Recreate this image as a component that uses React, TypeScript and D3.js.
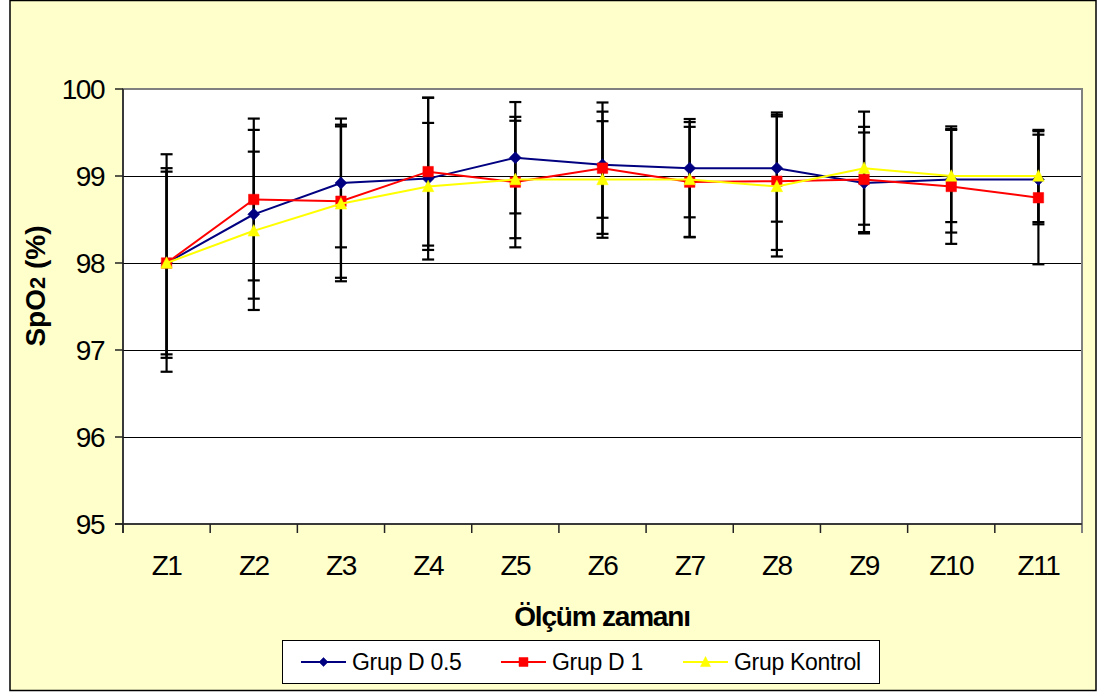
import React from "react";
import * as d3 from "d3";

const categories = ["Z1", "Z2", "Z3", "Z4", "Z5", "Z6", "Z7", "Z8", "Z9", "Z10", "Z11"];
const yTicks = [95, 96, 97, 98, 99, 100];

const seriesNames = ["Grup D 0.5", "Grup D 1", "Grup Kontrol"];
const meanD05 = [98, 98.56, 98.92, 98.97, 99.21, 99.13, 99.09, 99.09, 98.92, 98.96, 98.96];
const meanD1 = [98, 98.73, 98.71, 99.05, 98.93, 99.09, 98.93, 98.94, 98.96, 98.88, 98.75];
const meanKontrol = [98, 98.37, 98.68, 98.88, 98.96, 98.96, 98.96, 98.88, 99.09, 99.0, 99.0];
const sdD05 = [1.25, 0.97, 0.74, 0.93, 0.64, 0.61, 0.565, 0.615, 0.58, 0.61, 0.515];
const sdD1 = [1.09, 0.93, 0.88, 0.85, 0.75, 0.755, 0.635, 0.79, 0.605, 0.66, 0.765];
const sdKontrol = [1.05, 0.91, 0.89, 0.73, 0.675, 0.67, 0.66, 0.805, 0.65, 0.53, 0.53];

const colors = ["#000080", "#FF0000", "#FFFF00"];
const markers = ["diamond", "square", "triangle"];

const FONT = "Arial, 'Liberation Sans', Helvetica, sans-serif";

export default function App() {
  const left = 123, right = 1082, top = 89, bottom = 524;
  const x = d3.scaleBand<string>().domain(categories).range([left, right]).padding(0);
  const y = d3.scaleLinear().domain([95, 100]).range([bottom, top]);
  const cx = (c: string) => (x(c) as number) + x.bandwidth() / 2;

  const series = [
    { name: seriesNames[0], mean: meanD05, sd: sdD05, color: colors[0], marker: markers[0] },
    { name: seriesNames[1], mean: meanD1, sd: sdD1, color: colors[1], marker: markers[1] },
    { name: seriesNames[2], mean: meanKontrol, sd: sdKontrol, color: colors[2], marker: markers[2] },
  ];

  const line = d3
    .line<number>()
    .x((_, i) => cx(categories[i]))
    .y((d) => y(d));

  const markerPath = (type: string, size: number) => {
    const s = size / 2;
    if (type === "diamond") return `M0,${-s}L${s},0L0,${s}L${-s},0Z`;
    if (type === "square") return `M${-s},${-s}H${s}V${s}H${-s}Z`;
    return `M0,${-s - 1}L${s + 0.5},${s}L${-s - 0.5},${s}Z`;
  };

  const legendItems = [
    { lx: 301, tx: 352 },
    { lx: 501, tx: 552 },
    { lx: 683, tx: 734 },
  ];

  return (
    <svg
      width={1113}
      height={696}
      style={{ position: "absolute", left: 0, top: 0, background: "#fff" }}
      fontFamily={FONT}
    >
      <rect x={10} y={0.5} width={1086} height={690} fill="#FFFFCC" stroke="#000" strokeWidth={1.5} />
      {/* plot area */}
      <rect x={left} y={top} width={right - left} height={bottom - top} fill="#fff" stroke="#808080" strokeWidth={2} />
      {/* gridlines */}
      {yTicks.filter((t) => t > 95 && t < 100).map((t) => (
        <line key={t} x1={left} x2={right} y1={y(t) + 0.5} y2={y(t) + 0.5} stroke="#000" strokeWidth={1} />
      ))}
      {/* right border extension */}
      <line x1={right} x2={right} y1={top} y2={bottom + 9} stroke="#808080" strokeWidth={2} />
      {/* axes */}
      <line x1={left} x2={left} y1={top} y2={bottom + 9} stroke="#222" strokeWidth={1.5} />
      <line x1={left - 8} x2={right} y1={bottom} y2={bottom} stroke="#222" strokeWidth={1.5} />
      {yTicks.map((t) => (
        <g key={t}>
          <line x1={left - 8} x2={left} y1={y(t)} y2={y(t)} stroke="#222" strokeWidth={1.5} />
          <text
            x={104}
            y={y(t)}
            dy="0.36em"
            textAnchor="end"
            fontSize={28}
            letterSpacing={-1.5}
            fill="#000"
          >
            {t}
          </text>
        </g>
      ))}
      {categories.map((c) => (
        <g key={c}>
          <line x1={x(c) as number} x2={x(c) as number} y1={bottom} y2={bottom + 9} stroke="#222" strokeWidth={1.5} />
          <text x={cx(c)} y={575} textAnchor="middle" fontSize={28} letterSpacing={-1.5} fill="#000">
            {c}
          </text>
        </g>
      ))}
      {/* error bars */}
      {series.map((s, si) =>
        s.mean.map((m, i) => {
          const xc = cx(categories[i]);
          const y1 = y(m + s.sd[i]);
          const y2 = y(m - s.sd[i]);
          return (
            <g key={`e${si}-${i}`} stroke="#000" strokeWidth={2.2}>
              <line x1={xc} x2={xc} y1={y1} y2={y2} />
              <line x1={xc - 6} x2={xc + 6} y1={y1} y2={y1} />
              <line x1={xc - 6} x2={xc + 6} y1={y2} y2={y2} />
            </g>
          );
        })
      )}
      {/* lines and markers */}
      {series.map((s, si) => (
        <g key={`s${si}`}>
          <path d={line(s.mean) as string} fill="none" stroke={s.color} strokeWidth={2} />
          {s.mean.map((m, i) => (
            <path
              key={i}
              d={markerPath(s.marker, s.marker === "diamond" ? 12 : 10.5)}
              transform={`translate(${cx(categories[i])},${y(m)})`}
              fill={s.color}
              stroke={s.color}
              strokeWidth={0.5}
            />
          ))}
        </g>
      ))}
      {/* axis titles */}
      <text
        x={602}
        y={626}
        textAnchor="middle"
        fontSize={28}
        fontWeight="bold"
        letterSpacing={-1.2}
        fill="#000"
      >
        Ölçüm zamanı
      </text>
      <text
        transform="translate(45,286) rotate(-90)"
        textAnchor="middle"
        fontSize={28}
        fontWeight="bold"
        fill="#000"
      >
        SpO<tspan fontSize={22}>2</tspan> (%)
      </text>
      {/* legend */}
      <rect x={282.5} y={640.5} width={597} height={43} fill="#fff" stroke="#000" strokeWidth={1} />
      {series.map((s, si) => {
        const it = legendItems[si];
        return (
          <g key={`l${si}`}>
            <line x1={it.lx} x2={it.lx + 45} y1={662} y2={662} stroke={s.color} strokeWidth={2} />
            <path
              d={markerPath(s.marker, 9)}
              transform={`translate(${it.lx + 22.5},662)`}
              fill={s.color}
              stroke={s.color}
              strokeWidth={0.5}
            />
            <text x={it.tx} y={670} fontSize={23} letterSpacing={-0.3} fill="#000">
              {s.name}
            </text>
          </g>
        );
      })}
    </svg>
  );
}
